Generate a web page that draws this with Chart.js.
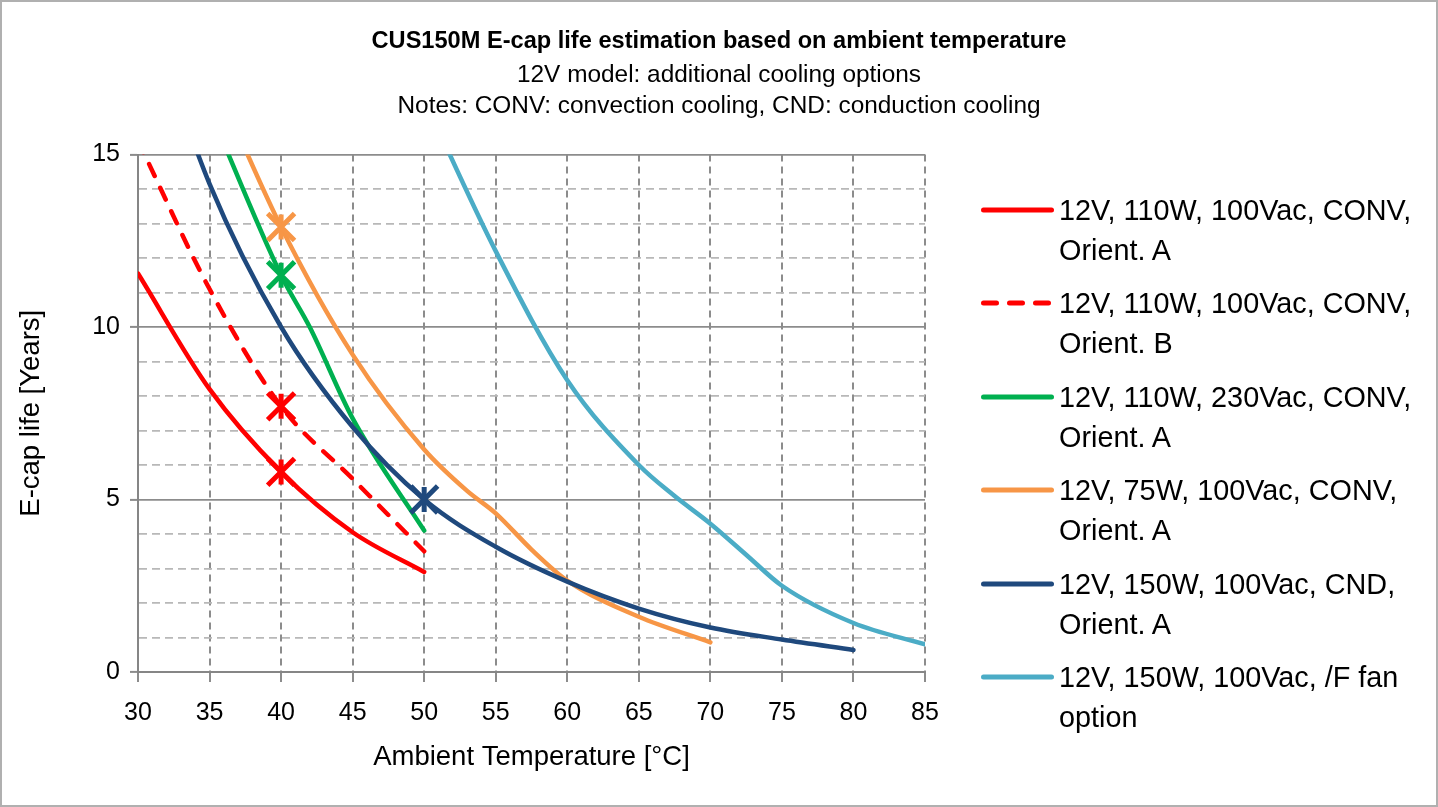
<!DOCTYPE html>
<html>
<head>
    <title>CUS150M E-cap life estimation</title>
    <script src="https://cdn.jsdelivr.net/npm/chart.js"></script>
    <style>
        html, body { margin: 0; padding: 0; overflow: hidden; background: #fff; }
        #wrap { position: relative; width: 1438px; height: 807px; }
        #frame { position: absolute; left: 0; top: 0; width: 1438px; height: 807px; box-sizing: border-box;
                 border: 2px solid #b0b0b0; pointer-events: none; }
        #legend { position: absolute; left: 981px; top: 190px; font-family: "Liberation Sans", Arial, sans-serif;
                  font-size: 28.8px; line-height: 40px; color: #000; }
        .item { position: relative; height: 93.4px; }
        .item svg { position: absolute; left: 0; top: 15px; }
        .item span { position: absolute; left: 78px; top: 0; width: 375px; }
    </style>
</head>
<body>
<div id="wrap">
    <canvas id="lifeChart" width="1438" height="807"></canvas>
    <div id="legend"></div>
    <div id="frame"></div>
</div>

<script>
    // ambient temperature [°C] and e-cap life [years]
    const redA_T = [30, 35, 40, 45, 50];
    const redA = [11.55, 8.2, 5.8, 4.05, 2.9];
    const redB_T = [30, 35, 40, 45, 50];
    const redB = [15.4, 11.1, 7.7, 5.6, 3.5];
    const green_T = [35, 40, 42, 45, 50];
    const green = [16.3, 11.5, 10.0, 7.35, 4.1];
    const orange_T = [35, 40, 45, 50, 53, 55, 57.5, 60, 65, 70];
    const orange = [17.5, 12.9, 9.2, 6.45, 5.25, 4.6, 3.55, 2.65, 1.6, 0.86];
    const navy_T = [30, 35, 40, 45, 50, 55, 60, 65, 70, 75, 80];
    const navy = [20.0, 14.15, 10.0, 7.1, 5.0, 3.63, 2.62, 1.84, 1.29, 0.94, 0.64];
    const fan_T = [50, 55, 60, 65, 67.5, 70, 72.5, 75, 80, 85];
    const fan = [16.6, 12.2, 8.46, 6.0, 5.1, 4.3, 3.4, 2.5, 1.42, 0.8];

    // highlighted operating points
    const markerT = [40, 40, 40, 40, 50];
    const markerLife = [5.8, 7.7, 11.5, 12.9, 5.0];

    const seriesLabels = [
        '12V, 110W, 100Vac, CONV, Orient. A',
        '12V, 110W, 100Vac, CONV, Orient. B',
        '12V, 110W, 230Vac, CONV, Orient. A',
        '12V, 75W, 100Vac, CONV, Orient. A',
        '12V, 150W, 100Vac, CND, Orient. A',
        '12V, 150W, 100Vac, /F fan option'
    ];
    const seriesColors = ['#ff0000', '#ff0000', '#00b050', '#f79646', '#1f497d', '#4bacc6'];
    const markerColors = ['#ff0000', '#ff0000', '#00b050', '#f79646', '#1f497d'];

    const xTicks = [30, 35, 40, 45, 50, 55, 60, 65, 70, 75, 80, 85];

    const FONT = '"Liberation Sans", Arial, sans-serif';

    function pts(xs, ys) {
        return xs.map((x, i) => ({ x: x, y: ys[i] }));
    }

    const series = [
        pts(redA_T, redA), pts(redB_T, redB), pts(green_T, green),
        pts(orange_T, orange), pts(navy_T, navy), pts(fan_T, fan)
    ];

    const datasets = series.map((data, i) => ({
        label: seriesLabels[i],
        data: data,
        borderColor: seriesColors[i],
        backgroundColor: seriesColors[i],
        borderWidth: 4.5,
        borderDash: i === 1 ? [13, 13] : [],
        borderCapStyle: 'round',
        borderJoinStyle: 'round',
        cubicInterpolationMode: 'monotone',
        pointRadius: 0,
        fill: false,
        clip: 0,
        order: 10 - i
    }));

    const markerPts = pts(markerT, markerLife);
    datasets.push({
        label: 'marker',
        data: markerPts,
        showLine: false,
        pointStyle: 'crossRot',
        pointRadius: 19,
        pointBorderWidth: 5,
        pointBorderColor: markerColors,
        pointBackgroundColor: markerColors,
        order: 0
    });
    datasets.push({
        label: 'marker',
        data: markerPts,
        showLine: false,
        pointStyle: 'line',
        pointRotation: 90,
        pointRadius: 12.5,
        pointBorderWidth: 5,
        pointBorderColor: markerColors,
        pointBackgroundColor: markerColors,
        order: 0
    });

    const isMajor = c => c.tick && c.tick.value % 5 === 0;

    const ctx = document.getElementById('lifeChart').getContext('2d');
    const chart = new Chart(ctx, {
        type: 'line',
        data: { datasets: datasets },
        options: {
            responsive: false,
            animation: false,
            layout: { padding: 0 },
            plugins: {
                legend: { display: false },
                tooltip: { enabled: false },
                title: {
                    display: true,
                    text: 'CUS150M E-cap life estimation based on ambient temperature',
                    color: '#000',
                    font: { family: FONT, size: 23.6, weight: 'bold', lineHeight: 1.2 },
                    padding: { top: 27.5, bottom: 0 }
                },
                subtitle: {
                    display: true,
                    text: ['12V model: additional cooling options',
                           'Notes: CONV: convection cooling, CND: conduction cooling'],
                    color: '#000',
                    font: { family: FONT, size: 24.4, lineHeight: 31 / 24.4 },
                    padding: { top: 3.5, bottom: 33.2 }
                }
            },
            scales: {
                x: {
                    type: 'linear',
                    min: 30,
                    max: 85,
                    afterBuildTicks: s => { s.ticks = xTicks.map(v => ({ value: v })); },
                    ticks: { color: '#000', font: { family: FONT, size: 25 }, padding: 16, maxRotation: 0 },
                    grid: { color: '#8c8c8c', lineWidth: 2, tickLength: 10, tickColor: '#8c8c8c', tickWidth: 2 },
                    border: { color: '#868686', width: 2, dash: [7, 5] },
                    title: {
                        display: true, text: 'Ambient Temperature [°C]', color: '#000',
                        font: { family: FONT, size: 27.5 }, padding: { top: 0, bottom: 33 }
                    },
                    afterFit: s => { s.height = 135; }
                },
                y: {
                    min: 0,
                    max: 15,
                    ticks: {
                        stepSize: 1,
                        autoSkip: false,
                        color: '#000',
                        font: { family: FONT, size: 25 },
                        padding: 10,
                        callback: v => (v % 5 === 0 ? v : '')
                    },
                    grid: {
                        color: c => isMajor(c) ? '#8c8c8c' : '#b8b8b8',
                        lineWidth: 1.8,
                        tickLength: 8,
                        tickColor: c => isMajor(c) ? '#8c8c8c' : 'rgba(0,0,0,0)',
                        tickWidth: 2
                    },
                    border: { color: '#868686', width: 2, dash: c => (c.tick && !isMajor(c)) ? [8, 5] : [] },
                    title: {
                        display: true, text: 'E-cap life [Years]', color: '#000',
                        font: { family: FONT, size: 27.5 }, padding: { top: 15, bottom: 0 }
                    },
                    afterFit: s => { s.width = 138; }
                },
                // empty right-hand axis that keeps room for the legend
                room: {
                    type: 'linear',
                    position: 'right',
                    display: true,
                    ticks: { display: false },
                    grid: { display: false, drawOnChartArea: false },
                    border: { display: false },
                    afterFit: s => { s.width = 513; }
                }
            }
        }
    });

    // legend beside the plot, built from the chart's own datasets
    const legendDiv = document.getElementById('legend');
    chart.data.datasets.filter(d => d.label !== 'marker').forEach(d => {
        const item = document.createElement('div');
        item.className = 'item';
        const dash = d.borderDash.length ? ' stroke-dasharray="' + d.borderDash.join(' ') + '"' : '';
        item.innerHTML =
            '<svg width="74" height="10"><line x1="2.5" y1="5" x2="70.5" y2="5" stroke="' + d.borderColor +
            '" stroke-width="5" stroke-linecap="round"' + dash + '/></svg>' +
            '<span>' + d.label + '</span>';
        legendDiv.appendChild(item);
    });
</script>
</body>
</html>
